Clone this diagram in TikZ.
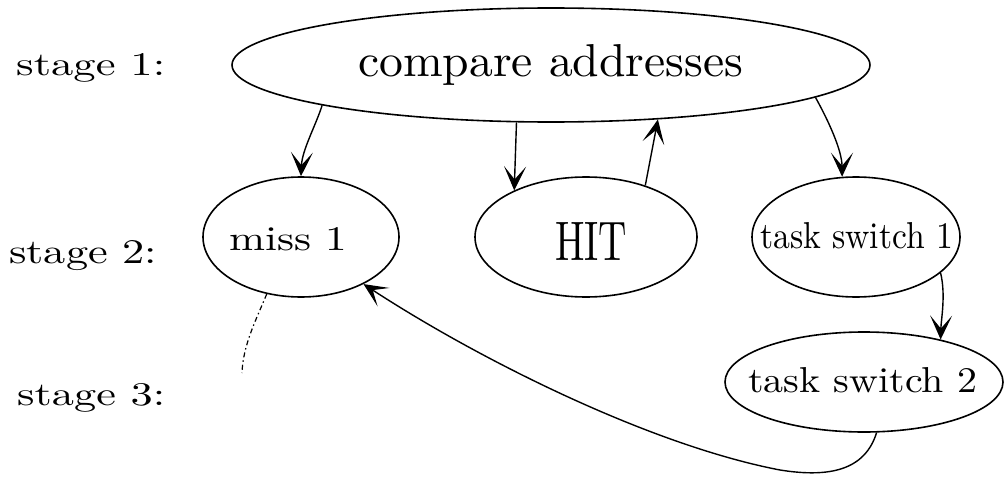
\documentclass[tikz,border=0pt]{standalone}
\usepackage{graphicx}
\usetikzlibrary{shapes.geometric,arrows.meta}
\newcommand{\rtxt}[3]{\resizebox{#1pt}{#2pt}{\fontsize{10}{12}\selectfont #3}}
\begin{document}
\begin{tikzpicture}[x=1pt,y=-1pt,
  ell/.style={draw, ellipse, inner sep=0pt, line width=1.6pt},
  lbl/.style={anchor=base west, inner sep=0pt},
  arr/.style={-{Stealth[length=24pt,width=22pt,inset=13pt]}, line width=1.4pt},
  dotline/.style={line width=1.2pt, dash pattern=on 5pt off 3pt on 1.5pt off 3pt}]
\useasboundingbox (0,0) rectangle (1004,487);
% ellipses
\node[ell, minimum width=638pt, minimum height=114pt] (c) at (551,65) {};
\node[ell, minimum width=196pt, minimum height=120pt] (miss) at (301,237) {};
\node[ell, minimum width=222pt, minimum height=120pt] (hit) at (586,237) {};
\node[ell, minimum width=208pt, minimum height=120pt] (ts1) at (856,237) {};
\node[ell, minimum width=278pt, minimum height=100pt] (ts2) at (864,382) {};
% texts
\node[lbl] (s1) at (16,75) {\rtxt{149}{22}{stage 1:}};
\node[lbl] (s2) at (9,263) {\rtxt{148}{23}{stage 2:}};
\node[lbl] (s3) at (17,405) {\rtxt{148}{22}{stage 3:}};
\node[lbl] (tc) at (358,77) {\rtxt{385}{32}{compare addresses}};
\node[lbl] (tmiss) at (229,250) {\rtxt{118}{23}{miss 1}};
\node[lbl] (thit) at (555,260) {\rtxt{72}{38}{HIT}};
\node[lbl] (tts1) at (760,248) {\rtxt{193}{26}{task switch 1}};
\node[lbl] (tts2) at (748,392) {\rtxt{229}{25}{task switch 2}};
% connectors
\draw[arr] (c.190) .. controls (316,125) and (302,150) .. (miss.north);
\draw[arr] (c.239) -- (hit.147);
\draw[arr] (hit.41) -- (c.-27);
\draw[arr] (c.-7) .. controls (828,120) and (842,150) .. (ts1.103);
\draw[arr] (ts1.-23) .. controls (946,295) and (941,320) .. (ts2.29);
\draw[arr] (ts2.-76) .. controls (865,470) and (830,478) .. (780,470)
  .. controls (650,445) and (480,360) .. (miss.-37);
\coordinate (d3) at (242,373);
\draw[dotline] (miss.239) .. controls (256,320) and (243,345) .. (d3);
\end{tikzpicture}
\end{document}
